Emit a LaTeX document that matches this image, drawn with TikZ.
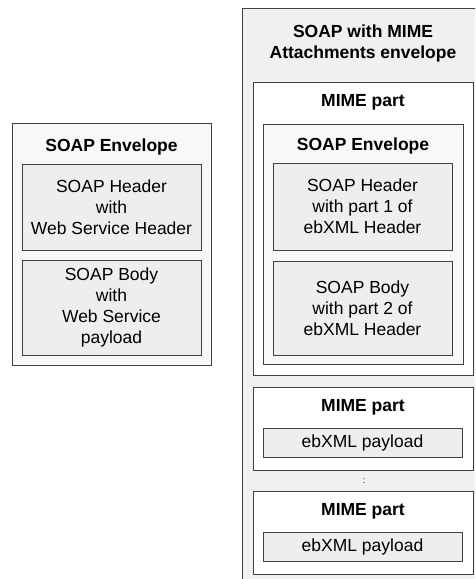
\documentclass[tikz,border=0pt]{standalone}
\usepackage{fontspec}
\setmainfont{Liberation Sans}
\definecolor{shellgray}{HTML}{F0F0F0}
\definecolor{envgray}{HTML}{F8F8F8}
\definecolor{leafgray}{HTML}{EEEEEE}
\definecolor{edgegray}{HTML}{404040}
\tikzset{
  box/.style={draw=edgegray, line width=1pt, rectangle, inner sep=0pt},
  leafbox/.style={box, fill=leafgray, align=center, font=\fontsize{17.5}{21}\selectfont},
  title/.style={font=\bfseries\fontsize{17.5}{21}\selectfont, align=center, inner sep=0pt},
}
\begin{document}
\begin{tikzpicture}[x=1pt,y=-1pt]
  \useasboundingbox (0,0) rectangle (475,579);
  \clip (0,0) rectangle (475,579);
  % plain SOAP message
  \node[box, fill=envgray, minimum width=199pt, minimum height=242pt] (env) at (111.5,244) {};
  \node[title] (envtitle) at (111.5,147) {SOAP Envelope};
  \node[leafbox, minimum width=179pt, minimum height=86pt] (hdr) at (111.5,207) {SOAP Header\\with\\Web Service Header};
  \node[leafbox, minimum width=179pt, minimum height=95pt] (body) at (111.5,307.5) {SOAP Body\\with\\Web Service\\payload};
  % SOAP with attachments
  \node[box, fill=shellgray, minimum width=250pt, minimum height=600pt] (swa) at (367,308) {};
  \node[title] (swatitle) at (363,43.5) {SOAP with MIME\\Attachments envelope};
  \node[box, fill=white, minimum width=220pt, minimum height=293pt] (mime1) at (363,228.5) {};
  \node[title] (mime1title) at (363,102) {MIME part};
  \node[box, fill=envgray, minimum width=200pt, minimum height=240pt] (env2) at (363,244) {};
  \node[title] (env2title) at (363,146) {SOAP Envelope};
  \node[leafbox, minimum width=179pt, minimum height=87pt] (hdr2) at (362.5,206.5) {SOAP Header\\with part 1 of\\ebXML Header};
  \node[leafbox, minimum width=179pt, minimum height=94pt] (body2) at (362.5,308) {SOAP Body\\with part 2 of\\ebXML Header};
  \foreach \n/\y in {2/387, 3/491} {% MIME parts with payload
    \node[box, fill=white, minimum width=220pt, minimum height=83pt, anchor=north] (mime\n) at (363,\y) {};
    \node[title] (mime\n title) at (363,\y+20) {MIME part};
    \node[leafbox, minimum width=199pt, minimum height=29pt, anchor=north] (pay\n) at (362.5,\y+41) {ebXML payload};
  }
  \node[font=\fontsize{9}{10}\selectfont, inner sep=0pt] (dots) at (364,481) {:};
\end{tikzpicture}
\end{document}
